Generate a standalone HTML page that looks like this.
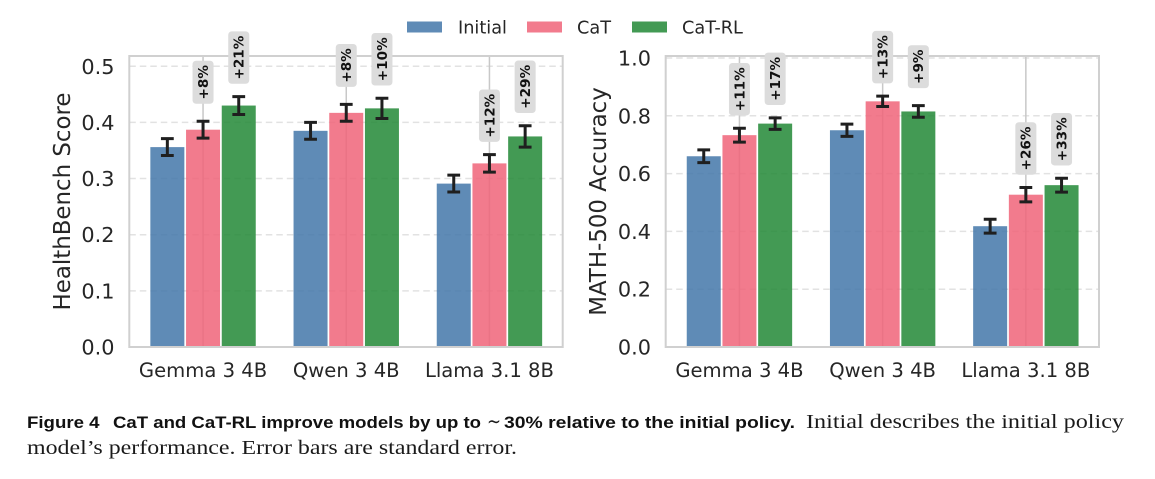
<!DOCTYPE html>
<html lang="en">
<head>
<meta charset="utf-8">
<title>CaT and CaT-RL improve models</title>
<style>
html,body{margin:0;padding:0;background:#fff;width:1155px;height:479px;overflow:hidden}
svg{display:block}
text{font-family:"DejaVu Sans","Liberation Sans",sans-serif}
.cap-b{font-family:"Liberation Sans",sans-serif;font-weight:700;font-size:16.5px;fill:#111}
.cap-s{font-family:"Liberation Serif",serif;font-size:20px;fill:#1a1a1a}
</style>
</head>
<body>
<svg id="figure" xmlns="http://www.w3.org/2000/svg" width="1155" height="479" viewBox="0 0 1155 479">
  <g id="panels"></g>
  <g>
    <rect x="407" y="21.5" width="35" height="11" fill="#5f8bb6"/>
    <text x="458" y="33.5" font-size="17.7" fill="#262626">Initial</text>
    <rect x="527" y="21.5" width="35" height="11" fill="#f27b8d"/>
    <text x="577" y="33.5" font-size="17.7" fill="#262626">CaT</text>
    <rect x="632" y="21.5" width="35" height="11" fill="#439a54"/>
    <text x="682" y="33.5" font-size="17.7" fill="#262626">CaT-RL</text>
  </g>
  <g>
    <text class="cap-b" x="27" y="428" textLength="72.5" lengthAdjust="spacingAndGlyphs">Figure 4</text>
    <text class="cap-b" x="113" y="428" textLength="368" lengthAdjust="spacingAndGlyphs">CaT and CaT-RL improve models by up to</text>
    <text class="cap-s" x="487" y="428" textLength="14" lengthAdjust="spacingAndGlyphs">∼</text>
    <text class="cap-b" x="504" y="428" textLength="291" lengthAdjust="spacingAndGlyphs">30% relative to the initial policy.</text>
    <text class="cap-s" x="806" y="428" textLength="318" lengthAdjust="spacingAndGlyphs">Initial describes the initial policy</text>
    <text class="cap-s" x="27" y="454" textLength="490" lengthAdjust="spacingAndGlyphs">model’s performance. Error bars are standard error.</text>
  </g>
</svg>
<script>
const categories = ["Gemma 3 4B", "Qwen 3 4B", "Llama 3.1 8B"];
const seriesNames = ["Initial", "CaT", "CaT-RL"];

const healthInitial = [0.356, 0.385, 0.291];
const healthCat = [0.387, 0.417, 0.327];
const healthRl = [0.430, 0.425, 0.375];
const healthInitialErr = [0.015, 0.015, 0.015];
const healthCatErr = [0.015, 0.015, 0.0155];
const healthRlErr = [0.016, 0.018, 0.019];
const healthCatGain = ["+8%", "+8%", "+12%"];
const healthRlGain = ["+21%", "+10%", "+29%"];
const healthTicks = ["0.0", "0.1", "0.2", "0.3", "0.4", "0.5"];

const mathInitial = [0.660, 0.750, 0.418];
const mathCat = [0.733, 0.850, 0.527];
const mathRl = [0.773, 0.815, 0.560];
const mathInitialErr = [0.022, 0.021, 0.024];
const mathCatErr = [0.024, 0.018, 0.025];
const mathRlErr = [0.020, 0.020, 0.024];
const mathCatGain = ["+11%", "+13%", "+26%"];
const mathRlGain = ["+17%", "+9%", "+33%"];
const mathTicks = ["0.0", "0.2", "0.4", "0.6", "0.8", "1.0"];

const SVG_NS = "http://www.w3.org/2000/svg";
const seriesColors = ["#4377a9", "#f06479", "#228836"];
const seriesKeys = ["initial", "cat", "cat-rl"];

function make(parent, tag, attrs, text) {
  const el = document.createElementNS(SVG_NS, tag);
  for (const k in attrs) el.setAttribute(k, attrs[k]);
  if (text !== undefined) el.textContent = text;
  parent.appendChild(el);
  return el;
}

function drawPanel(cfg) {
  const root = document.getElementById("panels");
  const g = make(root, "g", {});
  
  

  const yOf = v => cfg.bottom - v * cfg.pxPerUnit;
  const groupX = i => cfg.left + (i + 0.515) * cfg.groupStep;
  const barX = (i, s) => groupX(i) + (s - 1) * cfg.barStep;

  // horizontal grid
  cfg.ticks.forEach(t => {
    const v = parseFloat(t);
    if (v === 0) return;
    const line = make(g, "line", { x1: cfg.left, x2: cfg.right, y1: yOf(v), y2: yOf(v), stroke: "#e2e2e2", "stroke-width": 1.5, "stroke-dasharray": "6.5 4" });
    
    
  });

  // vertical grid at category centres
  categories.forEach((c, i) => {
    const line = make(g, "line", { x1: groupX(i), x2: groupX(i), y1: cfg.top, y2: cfg.bottom, stroke: "#c8c8c8", "stroke-width": 1.5 });
    
    
  });

  // spines
  const frame = make(g, "rect", { x: cfg.left, y: cfg.top, width: cfg.right - cfg.left, height: cfg.bottom - cfg.top, fill: "none", stroke: "#d0d0d0", "stroke-width": 2 });
  
  

  // bars
  cfg.series.forEach((vals, s) => {
    vals.forEach((v, i) => {
      const bar = make(g, "rect", { x: barX(i, s) - cfg.barWidth / 2, y: yOf(v), width: cfg.barWidth, height: cfg.bottom - 1 - yOf(v), fill: seriesColors[s], "fill-opacity": 0.85 });
      
      
    });
  });

  // error bars
  cfg.errors.forEach((errs, s) => {
    errs.forEach((e, i) => {
      const x = barX(i, s), v = cfg.series[s][i];
      const eb = make(g, "path", {
        d: `M${x} ${yOf(v - e)}V${yOf(v + e)}M${x - 6.4} ${yOf(v + e)}H${x + 6.4}M${x - 6.4} ${yOf(v - e)}H${x + 6.4}`,
        fill: "none", stroke: "#1f1f1f", "stroke-width": 3
      });
      
      
    });
  });

  // gain annotations
  [1, 2].forEach(s => {
    cfg.gains[s - 1].forEach((label, i) => {
      const x = barX(i, s);
      const cy = yOf(cfg.series[s][i] + cfg.errors[s][i]) - 39;
      const ag = make(g, "g", {});
      
      
      const box = make(ag, "rect", { x: x - 10.5, y: cy, width: 21, height: 0, rx: 3.5, fill: "#dcdcdc" });
      const txt = make(ag, "text", {
        transform: `translate(${x + 4.9} ${cy}) rotate(-90)`,
        "text-anchor": "middle", "font-size": 13.6, "font-weight": 700, fill: "#111"
      }, label);
      const len = txt.getComputedTextLength() + 8.5;
      box.setAttribute("y", cy - len / 2);
      box.setAttribute("height", len);
    });
  });

  // y tick labels
  cfg.ticks.forEach(t => {
    const lab = make(g, "text", { x: cfg.tickRight, y: yOf(parseFloat(t)) + 7.5, "text-anchor": "end", "font-size": 20.8, fill: "#262626" }, t);
    
    
  });

  // x tick labels
  categories.forEach((c, i) => {
    const lab = make(g, "text", { x: groupX(i), y: 377, "text-anchor": "middle", "font-size": 19.6, fill: "#262626" }, c);
    
    
  });

  // y axis title
  const title = make(g, "text", { transform: `translate(${cfg.titleX} 201.5) rotate(-90)`, "text-anchor": "middle", "font-size": 22.9, fill: "#262626" }, cfg.yTitle);
  
  
}

drawPanel({
  key: "healthbench", yTitle: "HealthBench Score",
  left: 129.3, right: 562.7, top: 56, bottom: 347, pxPerUnit: 561.5,
  groupStep: 143.2, barStep: 35.7, barWidth: 34, tickRight: 114.5, titleX: 70,
  ticks: healthTicks,
  series: [healthInitial, healthCat, healthRl],
  errors: [healthInitialErr, healthCatErr, healthRlErr],
  gains: [healthCatGain, healthRlGain]
});

drawPanel({
  key: "math500", yTitle: "MATH-500 Accuracy",
  left: 665.7, right: 1099, top: 56, bottom: 347, pxPerUnit: 289,
  groupStep: 143.2, barStep: 35.7, barWidth: 34, tickRight: 651, titleX: 606,
  ticks: mathTicks,
  series: [mathInitial, mathCat, mathRl],
  errors: [mathInitialErr, mathCatErr, mathRlErr],
  gains: [mathCatGain, mathRlGain]
});
</script>
</body>
</html>
